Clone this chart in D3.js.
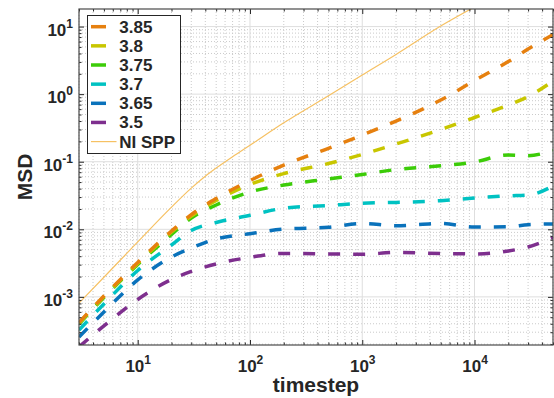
<!DOCTYPE html>
<html>
<head>
<meta charset="utf-8">
<script src="https://cdn.jsdelivr.net/npm/d3@7"></script>
<style>
  body { margin: 0; background: #fff; }
  svg { display: block; font-family: "Liberation Sans", Arial, sans-serif; font-weight: bold; }
</style>
</head>
<body>
<div id="chart"></div>
<script>
// data
const timesteps = [3, 5, 10, 20, 30, 50, 100, 200, 500, 1000, 2000, 5000, 10000, 20000, 30000, 50000]
const msd385 = [4.18e-4, 1.03e-3, 3.23e-3, 9.44e-3, 0.0165, 0.0286, 0.0527, 0.0893, 0.158, 0.248, 0.400, 0.818, 1.59, 3.03, 4.64, 7.62]
const msd380 = [4.08e-4, 1.01e-3, 3.12e-3, 9.12e-3, 0.0157, 0.0267, 0.0460, 0.0668, 0.0940, 0.128, 0.183, 0.299, 0.451, 0.690, 0.920, 1.56]
const msd375 = [3.97e-4, 9.8e-4, 3.01e-3, 8.38e-3, 0.0147, 0.0229, 0.0356, 0.0452, 0.0555, 0.0647, 0.0767, 0.0869, 0.0991, 0.126, 0.123, 0.147]
const msd370 = [3.24e-4, 7.85e-4, 2.46e-3, 5.86e-3, 9.59e-3, 0.0126, 0.0161, 0.0205, 0.0225, 0.0243, 0.0250, 0.0265, 0.0290, 0.0313, 0.0321, 0.0438]
const msd365 = [2.55e-4, 5.98e-4, 1.78e-3, 3.89e-3, 5.28e-3, 7.19e-3, 8.61e-3, 0.0101, 0.0107, 0.0122, 0.0113, 0.0122, 0.0108, 0.0109, 0.0117, 0.0120]
const msd350 = [1.82e-4, 3.72e-4, 9.16e-4, 1.81e-3, 2.38e-3, 3.07e-3, 3.85e-3, 4.39e-3, 4.32e-3, 4.27e-3, 4.54e-3, 4.39e-3, 4.32e-3, 4.78e-3, 5.47e-3, 7.57e-3]
const niSppTimesteps = [3, 5, 10, 20, 30, 40, 50, 70, 100, 200, 500, 1000, 2000, 5000, 10000]
const niSpp = [8.1e-4, 1.95e-3, 6.5e-3, 0.0213, 0.0407, 0.061, 0.0805, 0.1186, 0.175, 0.376, 0.944, 1.92, 3.87, 10.2, 19.5]
const seriesNames = ["3.85", "3.8", "3.75", "3.7", "3.65", "3.5"]
const niSppName = "NI SPP"
const xTicks = [10, 100, 1000, 10000]
const yTicks = [1e-3, 1e-2, 1e-1, 1, 10]

const colors = ["#e6800f", "#c8c600", "#3ccc08", "#00c2c2", "#0a72bb", "#7e2f8e"]
const niSppColor = "#f6c163"
const axisColor = "#262626"

const series = [msd385, msd380, msd375, msd370, msd365, msd350].map((vals, i) => ({
	name: seriesNames[i],
	color: colors[i],
	points: timesteps.map((t, j) => [t, vals[j]])
}))

const W = 554, H = 398
const margin = { top: 9, left: 79, right: 1, bottom: 53 }
const width = W - margin.left - margin.right
const height = H - margin.top - margin.bottom

const svg = d3.select("#chart").append("svg")
	.attr("width", W)
	.attr("height", H)

const g = svg.append("g")
	.attr("transform", "translate(" + margin.left + "," + margin.top + ")")

const x = d3.scaleLog().domain([3, 50000]).range([0, width])
const y = d3.scaleLog().domain([1.94e-4, 18.2]).range([height, 0])

// minor tick / grid positions
const xMinor = []
for (let d = 0; d <= 4; d++) for (let k = 2; k <= 9; k++) {
	const v = k * Math.pow(10, d)
	if (v >= 3 && v <= 50000) xMinor.push(v)
}
const yMinor = []
for (let d = -4; d <= 1; d++) for (let k = 2; k <= 9; k++) {
	const v = k * Math.pow(10, d)
	if (v >= 1.94e-4 && v <= 18.2) yMinor.push(v)
}

// grid
const grid = g.append("g")
grid.selectAll(".xminor").data(xMinor).enter().append("line")
	.attr("x1", d => x(d)).attr("x2", d => x(d))
	.attr("y1", 0).attr("y2", height)
	.attr("stroke", "#cacaca").attr("stroke-dasharray", "1,2")
grid.selectAll(".yminor").data(yMinor).enter().append("line")
	.attr("y1", d => y(d)).attr("y2", d => y(d))
	.attr("x1", 0).attr("x2", width)
	.attr("stroke", "#cacaca").attr("stroke-dasharray", "1,2")
grid.selectAll(".xmajor").data(xTicks).enter().append("line")
	.attr("x1", d => x(d)).attr("x2", d => x(d))
	.attr("y1", 0).attr("y2", height)
	.attr("stroke", "#dedede")
grid.selectAll(".ymajor").data(yTicks).enter().append("line")
	.attr("y1", d => y(d)).attr("y2", d => y(d))
	.attr("x1", 0).attr("x2", width)
	.attr("stroke", "#dedede")

// lines
svg.append("defs").append("clipPath").attr("id", "clip")
	.append("rect").attr("width", width).attr("height", height)

const line = d3.line()
	.x(d => x(d[0]))
	.y(d => y(d[1]))
	.curve(d3.curveMonotoneX)

const plot = g.append("g").attr("clip-path", "url(#clip)")

plot.append("path")
	.datum(niSppTimesteps.map((t, i) => [t, niSpp[i]]))
	.attr("fill", "none")
	.attr("stroke", niSppColor)
	.attr("stroke-width", 1.2)
	.attr("d", line)

// draw lowest first so orange sits on top like the reference
series.slice().reverse().forEach(s => {
	plot.append("path")
		.datum(s.points)
		.attr("fill", "none")
		.attr("stroke", s.color)
		.attr("stroke-width", 3.5)
		.attr("stroke-dasharray", "12,13")
		.attr("d", line)
})

// axes (ticks inside, all four sides)
function styleAxis(sel) {
	sel.attr("color", axisColor).attr("font-family", null).attr("font-size", null)
	sel.select(".domain").remove()
}

function expLabel(sel) {
	sel.text(null)
	sel.append("tspan").text("10")
	sel.append("tspan")
		.attr("dy", -8)
		.attr("font-size", 12)
		.text(d => Math.round(Math.log10(d)))
}

g.append("g").attr("transform", "translate(0," + height + ")")
	.call(d3.axisBottom(x).tickValues(xTicks).tickSizeInner(-5).tickSizeOuter(0))
	.call(styleAxis)
	.call(a => a.selectAll(".tick text")
		.attr("y", 27).attr("dy", null)
		.attr("font-size", 17).attr("fill", axisColor)
		.call(expLabel))

g.append("g")
	.call(d3.axisLeft(y).tickValues(yTicks).tickSizeInner(-5).tickSizeOuter(0))
	.call(styleAxis)
	.call(a => a.selectAll(".tick text")
		.attr("x", -6).attr("dy", null).attr("y", 8.5)
		.attr("font-size", 17).attr("fill", axisColor)
		.call(expLabel))

g.append("g")
	.call(d3.axisTop(x).tickValues(xTicks).tickSizeInner(-5).tickSizeOuter(0).tickFormat(""))
	.call(styleAxis)
g.append("g").attr("transform", "translate(" + width + ",0)")
	.call(d3.axisRight(y).tickValues(yTicks).tickSizeInner(-5).tickSizeOuter(0).tickFormat(""))
	.call(styleAxis)

// minor ticks
g.append("g").attr("transform", "translate(0," + height + ")")
	.call(d3.axisBottom(x).tickValues(xMinor).tickSizeInner(-2.5).tickSizeOuter(0).tickFormat(""))
	.call(styleAxis)
g.append("g")
	.call(d3.axisTop(x).tickValues(xMinor).tickSizeInner(-2.5).tickSizeOuter(0).tickFormat(""))
	.call(styleAxis)
g.append("g")
	.call(d3.axisLeft(y).tickValues(yMinor).tickSizeInner(-2.5).tickSizeOuter(0).tickFormat(""))
	.call(styleAxis)
g.append("g").attr("transform", "translate(" + width + ",0)")
	.call(d3.axisRight(y).tickValues(yMinor).tickSizeInner(-2.5).tickSizeOuter(0).tickFormat(""))
	.call(styleAxis)

// box
g.append("rect")
	.attr("width", width).attr("height", height)
	.attr("fill", "none")
	.attr("stroke", "#4a4a4a")
	.attr("stroke-width", 1.2)

// axis titles
svg.append("text")
	.attr("x", margin.left + width / 2)
	.attr("y", 392)
	.attr("text-anchor", "middle")
	.attr("font-size", 21)
	.attr("fill", axisColor)
	.text("timestep")

svg.append("text")
	.attr("transform", "translate(32," + (margin.top + height / 2) + ") rotate(-90)")
	.attr("text-anchor", "middle")
	.attr("font-size", 21)
	.attr("fill", axisColor)
	.text("MSD")

// legend
const legend = svg.append("g")
legend.append("rect")
	.attr("x", 87.5).attr("y", 15.5)
	.attr("width", 93).attr("height", 138)
	.attr("fill", "#fff")
	.attr("stroke", axisColor)
	.attr("stroke-width", 1)

const legendItems = series.map(s => ({ name: s.name, color: s.color, w: 3.5, len: 15 }))
	.concat([{ name: niSppName, color: niSppColor, w: 1.2, len: 25.5 }])

legendItems.forEach((item, i) => {
	const cy = 26.7 + i * 19.15
	legend.append("line")
		.attr("x1", 91).attr("x2", 91 + item.len)
		.attr("y1", cy).attr("y2", cy)
		.attr("stroke", item.color)
		.attr("stroke-width", item.w)
	legend.append("text")
		.attr("x", 119.3).attr("y", cy + 6)
		.attr("font-size", 17)
		.attr("fill", axisColor)
		.text(item.name)
})
</script>
</body>
</html>
